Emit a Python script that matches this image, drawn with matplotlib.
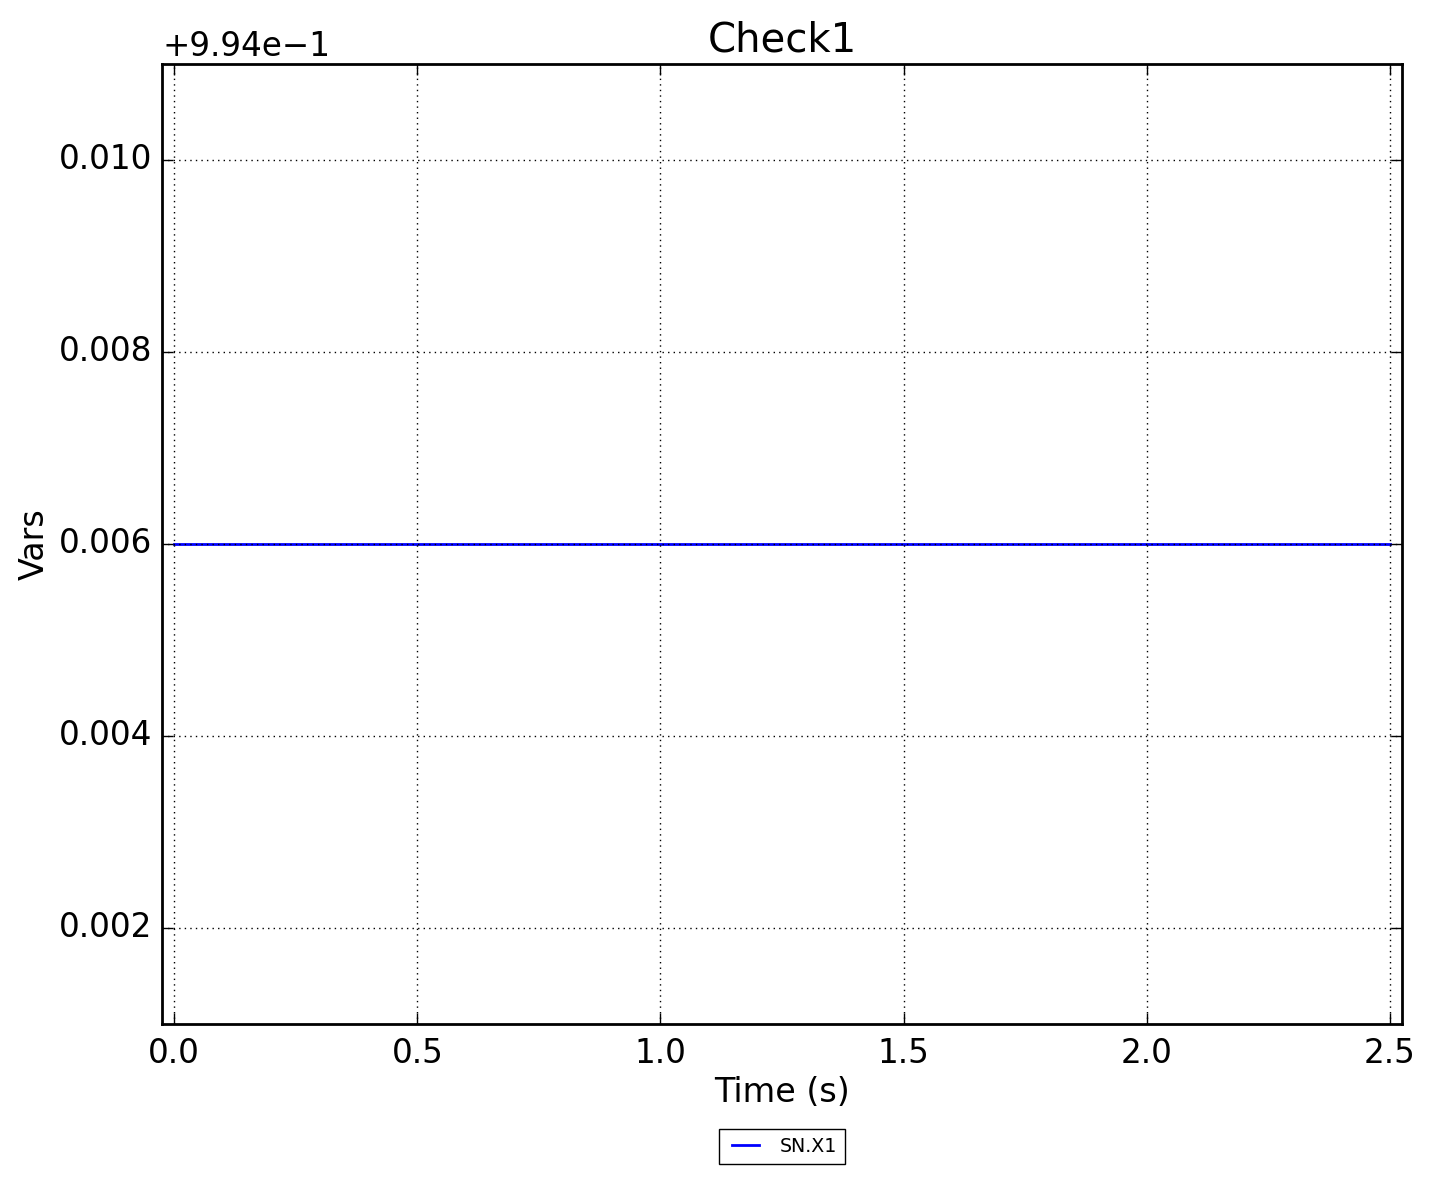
import matplotlib
matplotlib.use("Agg")
import matplotlib.pyplot as plt
from matplotlib import ticker
from matplotlib.transforms import ScaledTranslation

plt.style.use("classic")

time_s = [0.0, 2.5]
sn_x1 = [1.0, 1.0]
series_label = "SN.X1"

fig = plt.figure(figsize=(14.33, 11.8), dpi=100, facecolor="white")
ax = fig.add_axes([0.1131, 0.1322, 0.8653, 0.8136])
ax.plot(time_s, sn_x1, color="blue", lw=2.0, label=series_label)
ax.set_xlim(-0.025, 2.525)
ax.set_ylim(0.995, 1.005)
ax.set_xticks([0.0, 0.5, 1.0, 1.5, 2.0, 2.5])
ax.set_yticks([0.996, 0.998, 1.000, 1.002, 1.004])
fmt = ticker.ScalarFormatter(useOffset=0.994)
ax.yaxis.set_major_formatter(fmt)
ax.grid(True, color="black", linestyle=":", linewidth=1.0)
ax.tick_params(labelsize=23.5, length=8, width=1)
ax.tick_params(axis="y", pad=7)
ax.tick_params(axis="x", pad=9)
off = ax.yaxis.get_offset_text()
off.set_fontsize(23.5)
off.set_transform(off.get_transform() + ScaledTranslation(0, 0.04, fig.dpi_scale_trans))
for s in ax.spines.values():
    s.set_linewidth(2)
ax.set_title("Check1", fontsize=29, y=1.0, pad=9)
ax.set_xlabel("Time (s)", fontsize=24, labelpad=5)
ax.set_ylabel("Vars", fontsize=24, labelpad=6)
leg = ax.legend(loc="upper center", bbox_to_anchor=(0.5, -0.109), borderaxespad=0,
                fontsize=13.7, ncol=1, frameon=True, fancybox=False, handlelength=2,
                borderpad=0.42)
fig.savefig("out.png", dpi=100, facecolor="white")
